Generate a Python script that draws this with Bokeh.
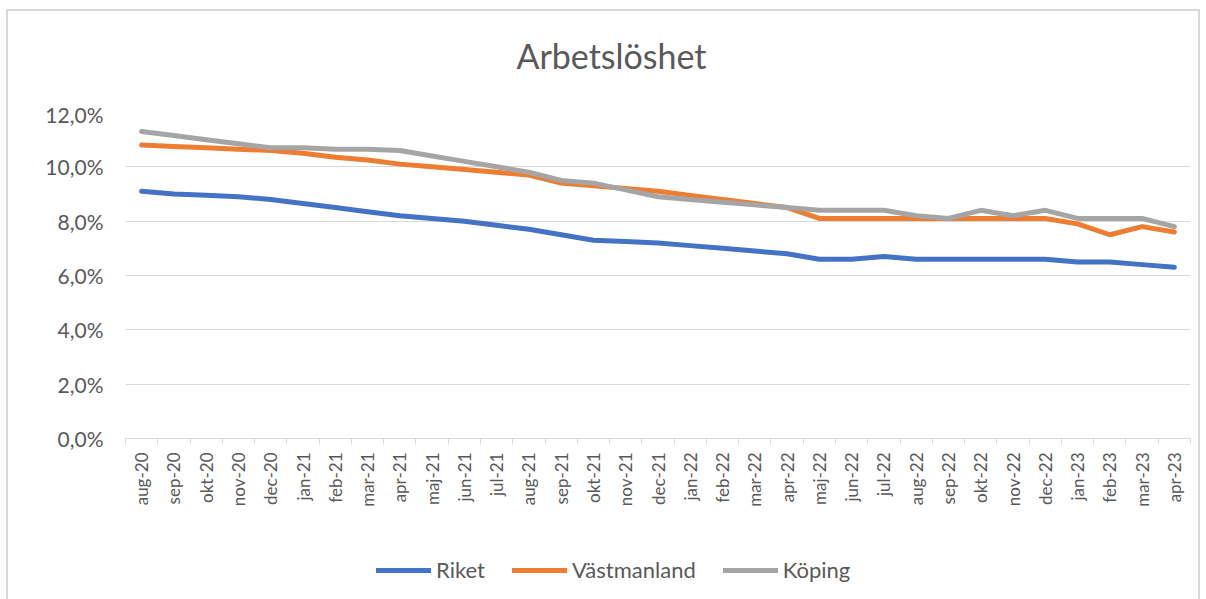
from bokeh.plotting import figure
from bokeh.layouts import column
from bokeh.models import FixedTicker, Legend, LegendItem, Range1d, Label
from bokeh.embed import file_html
from bokeh.resources import INLINE
from math import pi

months = ["aug-20", "sep-20", "okt-20", "nov-20", "dec-20", "jan-21", "feb-21", "mar-21",
          "apr-21", "maj-21", "jun-21", "jul-21", "aug-21", "sep-21", "okt-21", "nov-21",
          "dec-21", "jan-22", "feb-22", "mar-22", "apr-22", "maj-22", "jun-22", "jul-22",
          "aug-22", "sep-22", "okt-22", "nov-22", "dec-22", "jan-23", "feb-23", "mar-23",
          "apr-23"]

riket = [9.1, 9.0, 8.95, 8.9, 8.8, 8.65, 8.5, 8.35, 8.2, 8.1, 8.0, 7.85, 7.7, 7.5, 7.3, 7.25,
         7.2, 7.1, 7.0, 6.9, 6.8, 6.6, 6.6, 6.7, 6.6, 6.6, 6.6, 6.6, 6.6, 6.5, 6.5, 6.4, 6.3]
vastmanland = [10.8, 10.75, 10.7, 10.65, 10.6, 10.5, 10.35, 10.25, 10.1, 10.0, 9.9, 9.8, 9.7,
               9.4, 9.3, 9.2, 9.1, 8.95, 8.8, 8.65, 8.5, 8.1, 8.1, 8.1, 8.1, 8.1, 8.1, 8.1,
               8.1, 7.9, 7.5, 7.8, 7.6]
koping = [11.3, 11.15, 11.0, 10.85, 10.7, 10.7, 10.65, 10.65, 10.6, 10.4, 10.2, 10.0, 9.8,
          9.5, 9.4, 9.15, 8.9, 8.8, 8.7, 8.6, 8.5, 8.4, 8.4, 8.4, 8.2, 8.1, 8.4, 8.2, 8.4,
          8.1, 8.1, 8.1, 7.8]

y_ticks = [0, 2, 4, 6, 8, 10, 12]
y_labels = ["0,0%", "2,0%", "4,0%", "6,0%", "8,0%", "10,0%", "12,0%"]

series_names = ["Riket", "Västmanland", "Köping"]
colors = ["#4472C4", "#ED7D31", "#A5A5A5"]
title_text = "Arbetslöshet"

FONT = "Lato"
TXT = "#595959"

xs = list(range(len(months)))

# title strip (ranges map to page pixels)
p0 = figure(width=1190, height=90, output_backend="svg", toolbar_location=None,
            x_range=Range1d(125, 1190), y_range=Range1d(101, 11),
            min_border_left=117, min_border_right=8, min_border_top=0, min_border_bottom=0)
p0.axis.visible = False
p0.grid.visible = False
p0.outline_line_color = None
p0.add_layout(Label(x=611, y=55, text=title_text, text_align="center",
                    text_baseline="alphabetic", text_font=FONT, text_font_size="34px",
                    text_color=TXT))

p = figure(width=1190, height=428, output_backend="svg", toolbar_location=None,
           x_range=Range1d(-0.5, len(months) - 0.5), y_range=Range1d(0, 12),
           min_border_left=117, min_border_right=8, min_border_top=11, min_border_bottom=91)

p.outline_line_color = None
p.xgrid.grid_line_color = None
p.ygrid.grid_line_color = "#d9d9d9"
p.ygrid.grid_line_width = 1

# x axis
p.xaxis.ticker = FixedTicker(ticks=xs, minor_ticks=[i - 0.5 for i in range(len(months) + 1)])
p.xaxis.major_label_overrides = {i: m for i, m in enumerate(months)}
p.xaxis.major_label_orientation = pi / 2
p.xaxis.major_label_text_font = FONT
p.xaxis.major_label_text_font_size = "17px"
p.xaxis.major_label_text_color = TXT
p.xaxis.axis_line_color = "#d9d9d9"
p.xaxis.major_tick_line_color = None
p.xaxis.major_tick_out = 0
p.xaxis.major_tick_in = 0
p.xaxis.minor_tick_line_color = "#d9d9d9"
p.xaxis.minor_tick_in = 0
p.xaxis.minor_tick_out = 6
p.xaxis.major_label_standoff = 8

# y axis
p.yaxis.ticker = FixedTicker(ticks=y_ticks)
p.yaxis.major_label_overrides = {t: l for t, l in zip(y_ticks, y_labels)}
p.yaxis.major_label_text_font = FONT
p.yaxis.major_label_text_font_size = "21px"
p.yaxis.major_label_text_color = TXT
p.yaxis.axis_line_color = None
p.yaxis.major_tick_line_color = None
p.yaxis.major_tick_out = 0
p.yaxis.major_tick_in = 0
p.yaxis.minor_tick_line_color = None
p.yaxis.major_label_standoff = 22

for name, vals, c in zip(series_names, [riket, vastmanland, koping], colors):
    p.line(xs, vals, line_color=c, line_width=5, line_cap="round", line_join="round")

# legend in its own strip below the chart
p2 = figure(width=1190, height=70, output_backend="svg", toolbar_location=None,
            x_range=Range1d(0, 1), y_range=Range1d(0, 1), min_border=0)
p2.axis.visible = False
p2.grid.visible = False
p2.outline_line_color = None
items = []
for name, c in zip(series_names, colors):
    r = p2.line([float("nan")], [float("nan")], line_color=c, line_width=5, line_cap="round")
    items.append(LegendItem(label=name, renderers=[r]))
legend = Legend(items=items, orientation="horizontal", location=(251, 16),
                label_text_font=FONT, label_text_font_size="22px", label_text_color=TXT,
                glyph_width=55, glyph_height=24, spacing=27, label_standoff=5,
                border_line_color=None, background_fill_alpha=0, margin=0, padding=4)
p2.add_layout(legend)

layout = column(p0, p, p2, spacing=0,
                styles={"margin-left": "6px", "margin-top": "9px",
                        "border": "2px solid #d9d9d9"})

open("out.html", "w").write(file_html(layout, INLINE))
